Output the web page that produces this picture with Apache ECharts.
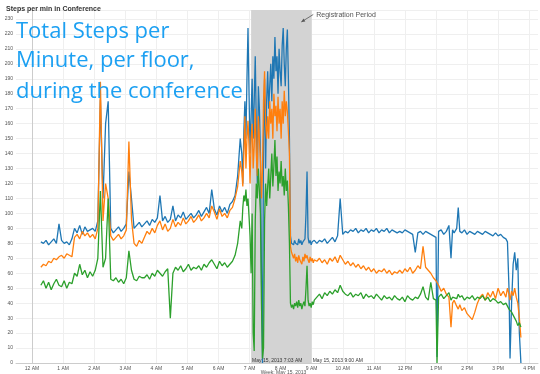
<!DOCTYPE html>
<html><head><meta charset="utf-8">
<script src="https://cdn.jsdelivr.net/npm/echarts@6/dist/echarts.min.js"></script>
<style>html,body{margin:0;padding:0;background:#fff}#c{width:540px;height:374px}</style>
</head><body><div id="c"></div>
<script>
// minutes after midnight, May 15 2013
const minutes = [
17,22,27,32,37,42,47,52,57,62,67,72,77,82,87,92,97,102,107,112,
117,122,127,132,137,142,147,152,157,162,167,172,177,182,187,192,197,202,207,212,
217,222,227,232,237,242,247,252,257,262,267,272,277,282,287,292,297,302,307,312,
317,322,327,332,337,342,347,352,357,362,367,372,377,382,387,392,397,402,
405,407,409,411,413,415,417,419,421,423,425,427,429,431,433,435,437,439,441,443,
445,447,449,451,453,455,457,459,461,463,465,467,469,471,473,475,477,479,481,483,
485,487,489,491,493,495,497,499,501,503,505,507,509,511,513,515,517,519,521,523,
525,527,529,531,533,535,537,539,541,543,545,
550,555,560,565,570,575,580,585,590,595,600,605,610,615,620,625,630,635,640,645,
650,655,660,665,670,675,680,685,690,695,700,705,710,715,720,725,730,735,740,745,
750,755,760,765,770,775,780,782,785,790,795,800,805,809,812,815,820,823,826,830,
835,840,845,850,855,860,865,870,875,880,885,890,895,900,905,910,915,
918,921,923,926,929,932,935,938,941,944
];
const blueSteps = [
81,80,82,79,81,83,80,93,82,80,81,79,83,90,87,92,86,91,88,89,
90,88,95,176,110,160,175,90,87,89,91,88,90,93,128,110,90,92,94,91,
93,95,92,96,94,97,112,95,98,94,96,105,95,99,97,101,96,98,100,97,
99,102,98,101,104,100,116,103,99,105,101,104,100,106,108,112,125,150,
140,120,155,175,150,190,224,180,140,165,190,150,175,205,160,120,185,170,140,60,
0,150,190,130,175,195,170,185,200,175,205,190,218,195,205,180,210,195,185,212,
224,200,185,210,223,190,150,85,80,81,79,82,80,81,79,83,80,82,79,81,
80,83,100,128,84,80,82,79,81,80,82,
80,82,81,83,80,82,84,81,85,110,86,88,87,89,88,90,87,89,88,90,
87,89,88,90,87,89,88,90,87,89,88,87,88,87,89,88,87,86,74,87,
88,86,88,87,86,85,84,4,88,89,86,88,92,70,89,87,90,104,88,87,
89,86,88,87,86,88,87,86,88,87,86,85,87,85,86,84,83,
81,50,3,40,66,74,62,70,20,0
];
const orangeSteps = [
64,66,65,68,67,70,69,71,72,70,73,72,71,84,86,83,88,85,87,84,
86,83,90,188,95,120,110,85,82,84,86,83,85,89,148,96,80,78,82,80,
84,88,86,90,87,92,95,89,93,88,90,96,91,94,92,97,93,95,98,94,
96,99,95,97,100,97,105,101,96,103,98,100,97,102,104,110,118,135,
128,118,140,165,130,150,162,145,120,150,160,130,145,170,140,125,165,150,135,110,
130,175,195,160,150,165,150,175,160,170,150,180,165,172,155,178,160,170,150,175,
160,182,165,175,168,155,140,78,74,72,70,73,68,71,67,72,69,70,66,71,
68,73,70,72,69,67,71,68,70,67,69,
68,70,67,69,66,70,68,71,67,72,69,66,68,65,67,64,66,63,65,62,
64,61,63,60,62,61,63,60,62,59,61,60,62,60,63,61,64,60,62,65,
63,78,64,62,60,57,55,54,52,48,50,46,44,24,40,42,38,36,39,35,
37,33,31,29,34,40,44,46,42,47,44,48,43,50,45,48,44,
50,46,42,48,45,50,44,40,30,17
];
const greenSteps = [
52,55,50,54,49,53,56,52,51,55,50,54,53,60,58,66,59,62,57,61,
58,62,70,115,64,70,110,56,55,57,54,56,53,57,75,62,56,55,58,57,
57,59,56,60,58,62,60,58,61,63,30,60,64,62,65,61,63,66,62,64,
63,65,62,66,64,67,69,66,63,68,65,67,64,66,68,72,80,95,
90,104,112,108,116,105,110,98,85,60,100,20,8,95,120,110,130,115,100,40,
3,10,95,120,105,118,130,110,125,140,118,132,149,125,138,115,128,120,135,118,
125,112,130,115,122,105,80,40,37,39,36,40,38,41,37,42,38,40,36,39,
41,38,50,65,42,38,40,37,41,39,42,
44,46,43,47,45,48,46,49,47,52,48,46,45,47,44,46,45,47,43,46,
44,45,43,46,44,42,45,43,44,42,45,43,42,44,41,45,43,42,44,43,
46,51,44,42,54,43,42,0,44,46,43,45,47,42,44,45,43,46,44,45,
42,44,43,45,42,44,43,45,42,44,41,43,42,40,41,39,40,
38,36,35,34,33,30,28,25,27,24
];
const seriesNames = ['Floor 1', 'Floor 2', 'Floor 3'];
const seriesColors = ['#1f77b4', '#ff7f0e', '#2ca02c'];
const hourValues = [0,60,120,180,240,300,360,420,480,540,600,660,720,780,840,900,960];
const hourLabels = ['12 AM','1 AM','2 AM','3 AM','4 AM','5 AM','6 AM','7 AM','8 AM','9 AM','10 AM','11 AM','12 PM','1 PM','2 PM','3 PM','4 PM'];
const regStart = 423, regEnd = 540;
const regStartText = 'May 15, 2013 7:03 AM';
const regEndText = 'May 15, 2013 9:00 AM';
const overlayLines = ['Total Steps per', 'Minute, per floor,', 'during the conference'];

const chart = echarts.init(document.getElementById('c'), null, {renderer: 'canvas'});
const pairs = arr => minutes.map((m, i) => [m, arr[i]]);
const allSteps = [blueSteps, orangeSteps, greenSteps];

const option = {
  animation: false,
  backgroundColor: '#fff',
  title: {
    text: 'Steps per min in Conference', left: 1, top: 1,
    textStyle: {fontSize: 7, fontWeight: 'bold', color: '#333', fontFamily: 'Liberation Sans'}
  },
  grid: {left: 16, right: 2, top: 10, bottom: 11, containLabel: false, outerBoundsMode: 'none'},
  xAxis: {
    type: 'value', min: -31, max: 977,
    axisLine: {lineStyle: {color: '#ccc'}},
    axisTick: {show: false, customValues: hourValues},
    axisLabel: {
      customValues: hourValues, fontSize: 5, color: '#555', margin: 3,
      fontFamily: 'Liberation Sans',
      formatter: v => { const i = hourValues.indexOf(v); return i >= 0 ? hourLabels[i] : ''; }
    },
    splitLine: {show: true, lineStyle: {color: '#efefef', width: 1}}
  },
  yAxis: {
    type: 'value', min: 0, max: 236, interval: 10,
    name: 'Total Number of Steps', nameLocation: 'middle', nameGap: 13,
    nameTextStyle: {fontSize: 5, color: '#555', fontFamily: 'Liberation Sans'},
    axisLine: {show: true, lineStyle: {color: '#ccc'}},
    axisTick: {show: false},
    axisLabel: {fontSize: 5, color: '#555', margin: 3, showMaxLabel: false, fontFamily: 'Liberation Sans'},
    splitLine: {show: true, lineStyle: {color: '#efefef', width: 1}}
  },
  series: [
    {
      type: 'line', name: 'shade', z: -1, data: [], silent: true,
      markArea: {
        silent: true,
        itemStyle: {color: '#d3d3d3'},
        label: {show: false},
        data: [[{xAxis: regStart}, {xAxis: regEnd}]]
      }
    }
  ].concat(allSteps.map((arr, k) => ({
    type: 'line', name: seriesNames[k], data: pairs(arr), showSymbol: false,
    lineStyle: {width: 1.3, color: seriesColors[k]}, itemStyle: {color: seriesColors[k]},
    z: 2 + k, silent: true
  })))
};
chart.setOption(option);

const P = (x, y) => chart.convertToPixel({xAxisIndex: 0, yAxisIndex: 0}, [x, y]);
const pS = P(regStart, 0), pE = P(regEnd, 0);
const arrowFrom = P(543, 233), arrowTo = P(520, 228);
const ang = Math.atan2(arrowTo[1] - arrowFrom[1], arrowTo[0] - arrowFrom[0]);
const ah = 4;
const head = [
  arrowTo,
  [arrowTo[0] - ah * Math.cos(ang - 0.45), arrowTo[1] - ah * Math.sin(ang - 0.45)],
  [arrowTo[0] - ah * Math.cos(ang + 0.45), arrowTo[1] - ah * Math.sin(ang + 0.45)]
];
const bigFont = '22px "Open Sans"';
const overlayTops = [21, 50, 81];
chart.setOption({
  graphic: overlayLines.map((t, i) => ({
    type: 'text', z: 100,
    style: {text: t, font: bigFont, fill: '#1ca0f2', x: 16, y: overlayTops[i], verticalAlign: 'top'}
  })).concat([
    {type: 'text', z: 100, style: {text: 'Registration Period', font: '7px "Liberation Sans"', fill: '#555', x: arrowFrom[0] + 3, y: arrowFrom[1] + 1, verticalAlign: 'middle'}},
    {type: 'line', z: 100, shape: {x1: arrowFrom[0], y1: arrowFrom[1], x2: arrowTo[0], y2: arrowTo[1]}, style: {stroke: '#555', lineWidth: 0.8}},
    {type: 'polygon', z: 100, shape: {points: head}, style: {fill: '#555'}},
    {type: 'text', z: 100, style: {text: regStartText, font: '5px "Liberation Sans"', fill: '#333', x: pS[0] + 1, y: pS[1] - 2, verticalAlign: 'middle'}},
    {type: 'text', z: 100, style: {text: regEndText, font: '5px "Liberation Sans"', fill: '#333', x: pE[0] + 1, y: pE[1] - 2, verticalAlign: 'middle'}},
    {type: 'text', z: 100, style: {text: 'Week: May 15, 2013', font: '5px "Liberation Sans"', fill: '#555', x: P(480, 0)[0] - 20, y: 373, verticalAlign: 'middle'}}
  ])
});
</script></body></html>
